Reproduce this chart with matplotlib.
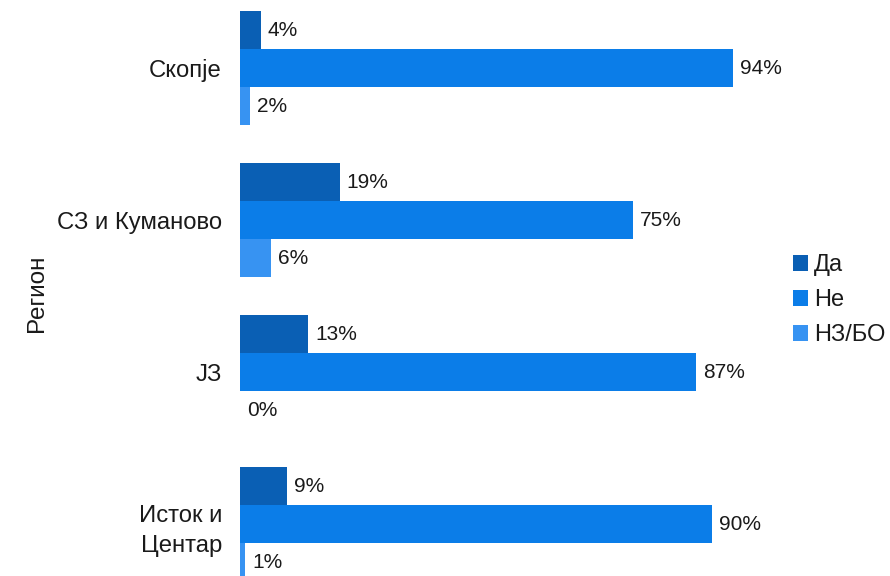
import matplotlib
matplotlib.use("Agg")
import matplotlib.pyplot as plt
import numpy as np

plt.rcParams['font.family'] = ['Liberation Sans', 'DejaVu Sans']

regions = ["Скопје", "СЗ и Куманово", "ЈЗ", "Исток и\nЦентар"]
series_names = ["Да", "Не", "НЗ/БО"]
da = [4, 19, 13, 9]
ne = [94, 75, 87, 90]
nz = [2, 6, 0, 1]
colors = ["#0a5fb4", "#0b7de8", "#3793f2"]
txt = "#1a1a1a"

fig = plt.figure(figsize=(8.9, 5.76), dpi=100)
ax = fig.add_axes([240/890, 0, 524.5/890, 1 - 11/576])

y = np.arange(len(regions))
h = 0.25
for i, (vals, name, c) in enumerate(zip([da, ne, nz], series_names, colors)):
    pos = y + (i - 1) * h
    ax.barh(pos, vals, height=h, color=c, label=name)
    for p, v in zip(pos, vals):
        ax.text(v + 1.3, p, f"{v}%", va="center", ha="left", fontsize=15, color=txt)

ax.set_xlim(0, 100)
ax.set_ylim((576 - 68) / 152, -0.375)
ax.set_yticks(y)
ax.set_yticklabels(regions, fontsize=17.2, color=txt, linespacing=1.5)
ax.tick_params(axis='y', length=0, pad=13)
ax.set_xticks([])
for s in ax.spines.values():
    s.set_visible(False)
ax.set_ylabel("Регион", fontsize=17.5, color=txt, labelpad=6)

leg = ax.legend(loc="center left", bbox_to_anchor=(1.013, 0.488), frameon=False,
                fontsize=17, handlelength=0.64, handleheight=0.64, handletextpad=0.28,
                labelspacing=0.55)
for t in leg.get_texts():
    t.set_color(txt)

fig.savefig("out.png", dpi=100)
